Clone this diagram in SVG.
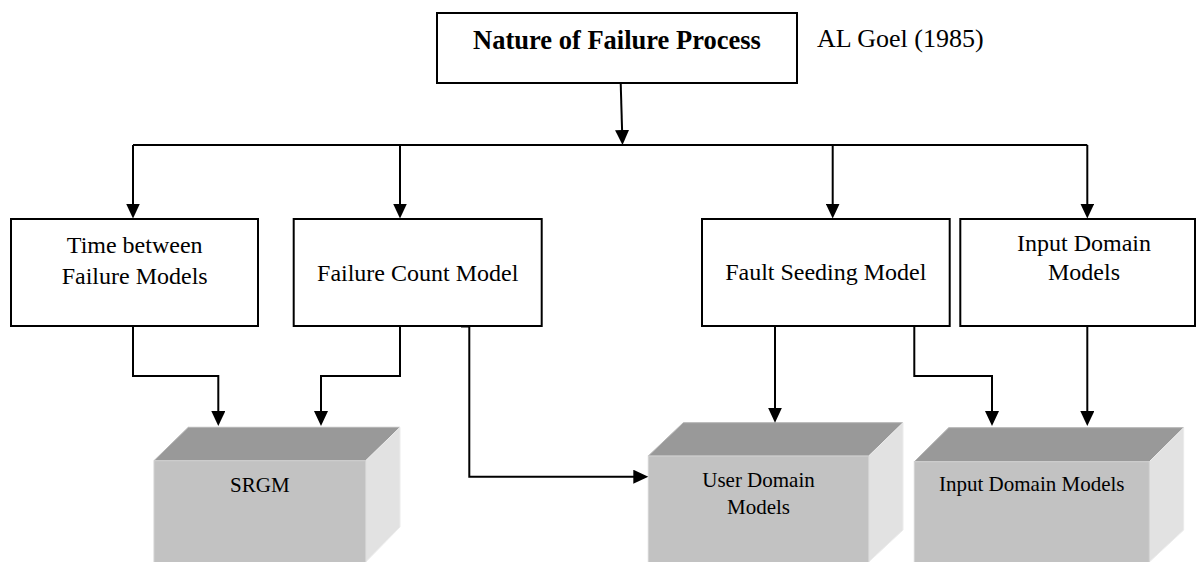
<svg xmlns="http://www.w3.org/2000/svg" width="1197" height="562" viewBox="0 0 1197 562">
  <style>
    .box { fill: #ffffff; stroke: #000000; stroke-width: 2; }
    .lbl { font-family: "Liberation Serif", "Times New Roman", serif; font-size: 24px; fill: #000000; text-anchor: middle; }
    .title { font-family: "Liberation Serif", "Times New Roman", serif; font-size: 26.5px; font-weight: bold; fill: #000000; text-anchor: middle; }
    .note { font-family: "Liberation Serif", "Times New Roman", serif; font-size: 26px; fill: #000000; }
    .cube-lbl { font-family: "Liberation Serif", "Times New Roman", serif; font-size: 21px; fill: #000000; text-anchor: middle; }
    .top { fill: #999999; stroke: #b4b4b4; stroke-width: 1; }
    .front { fill: #c2c2c2; stroke: #d2d2d2; stroke-width: 1; }
    .side { fill: #e2e2e2; stroke: #ececec; stroke-width: 1; }
    .wire { fill: none; stroke: #000000; stroke-width: 2; }
  </style>
  <defs>
    <marker id="arrow" markerUnits="userSpaceOnUse" markerWidth="16" markerHeight="14" refX="11" refY="7" orient="auto">
      <path d="M0,0 L15,7 L0,14 z" fill="#000000"/>
    </marker>
  </defs>

  <rect width="1197" height="562" fill="#ffffff"/>

  <!-- root -->
  <g id="nature">
    <rect class="box" x="437" y="13" width="360" height="70"/>
    <text class="title" x="617" y="49">Nature of Failure Process</text>
  </g>
  <g id="source">
    <text class="note" x="817" y="47">AL Goel (1985)</text>
  </g>

  <!-- first level categories -->
  <g id="time-between">
    <rect class="box" x="11" y="219" width="247" height="107"/>
    <text class="lbl" x="134.7" y="253">Time between</text>
    <text class="lbl" x="134.7" y="284">Failure Models</text>
  </g>
  <g id="failure-count">
    <rect class="box" x="293.7" y="219" width="248" height="107"/>
    <text class="lbl" x="417.7" y="281">Failure Count Model</text>
  </g>
  <g id="fault-seeding">
    <rect class="box" x="702" y="219" width="247.7" height="107"/>
    <text class="lbl" x="825.8" y="280">Fault Seeding Model</text>
  </g>
  <g id="input-domain">
    <rect class="box" x="960.3" y="219" width="234.7" height="107"/>
    <text class="lbl" x="1084" y="251">Input Domain</text>
    <text class="lbl" x="1084" y="280">Models</text>
  </g>

  <!-- model families drawn as blocks -->
  <g id="srgm">
    <polygon class="top" points="154,460.7 188.3,427.3 400,427.3 365.7,460.7"/>
    <polygon class="side" points="365.7,460.7 400,427.3 400,527 365.7,562"/>
    <rect class="front" x="154" y="460.7" width="211.7" height="102"/>
    <text class="cube-lbl" x="259.8" y="492">SRGM</text>
  </g>
  <g id="user-domain">
    <polygon class="top" points="648.3,456 683.3,422.7 903,422.7 868.7,456"/>
    <polygon class="side" points="868.7,456 903,422.7 903,530 868.7,562"/>
    <rect class="front" x="648.3" y="456" width="220.4" height="107"/>
    <text class="cube-lbl" x="758.5" y="487">User Domain</text>
    <text class="cube-lbl" x="758.5" y="514">Models</text>
  </g>
  <g id="input-domain-models">
    <polygon class="top" points="914.3,461.7 948.7,427.7 1183.7,427.7 1149.3,461.7"/>
    <polygon class="side" points="1149.3,461.7 1183.7,427.7 1183.7,530 1149.3,562"/>
    <rect class="front" x="914.3" y="461.7" width="235" height="101"/>
    <text class="cube-lbl" x="1031.8" y="491">Input Domain Models</text>
  </g>

  <!-- connectors -->
  <g id="connectors">
    <path class="wire" d="M620.7,83 L622.4,141" marker-end="url(#arrow)"/>
    <path class="wire" d="M133,145 H1087.3"/>
    <path class="wire" d="M133,145 V214.5" marker-end="url(#arrow)"/>
    <path class="wire" d="M400,145 V214.5" marker-end="url(#arrow)"/>
    <path class="wire" d="M832.7,145 V214.5" marker-end="url(#arrow)"/>
    <path class="wire" d="M1087.3,145 V214.5" marker-end="url(#arrow)"/>

    <path class="wire" d="M133,326 V376 H218.3 V422" marker-end="url(#arrow)"/>
    <path class="wire" d="M400,326 V376 H321 V422" marker-end="url(#arrow)"/>
    <path class="wire" d="M461,326.5 H469.3 V476.7 H644.3" marker-end="url(#arrow)"/>
    <path class="wire" d="M775,326 V418.7" marker-end="url(#arrow)"/>
    <path class="wire" d="M914.3,326 V376 H992 V422" marker-end="url(#arrow)"/>
    <path class="wire" d="M1087.3,326 V422" marker-end="url(#arrow)"/>
  </g>
</svg>
